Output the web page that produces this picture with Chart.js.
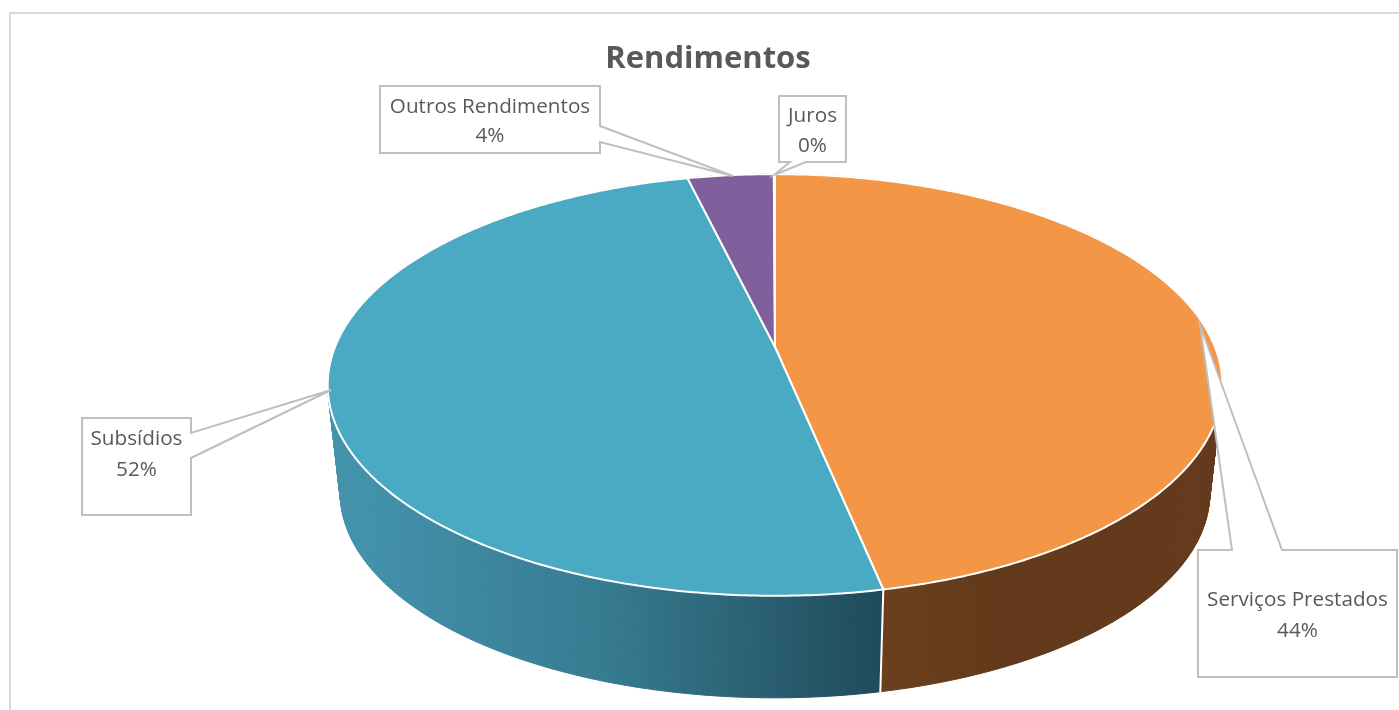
<!DOCTYPE html>
<html>
<head>
<meta charset="utf-8">
<title>Rendimentos</title>
<script src="https://cdn.jsdelivr.net/npm/chart.js@4"></script>
<style>
  html, body { margin: 0; padding: 0; background: #fff; overflow: hidden; }
  canvas { display: block; }
</style>
</head>
<body>
<canvas id="rendimentos" width="1399" height="710"></canvas>
<script>
const categories = ["Serviços Prestados", "Subsídios", "Outros Rendimentos", "Juros"];
// slice sizes as they are drawn in the picture (measured on the pie itself)
const sliceShares = [46.75, 49.5, 3.7, 0.05];
// percentages printed on the callouts
const labelPercents = [44, 52, 4, 0];

const topColors = ["#f39646", "#4aa9c3", "#7f609c", "#f2c94c"];
const sideColors = [
  ["#71451f", "#62391a", "#633a1b"],
  ["#4494ae", "#377b90", "#1f4a5a"],
  ["#5a446f", "#5a446f", "#5a446f"],
  ["#8a7030", "#8a7030", "#8a7030"]
];

// perspective of the disc: apex, radii and how much the near side grows
const pie = { cx: 775, cy: 347, rx: 440, ry: 204, k: 0.18, depth: 109, bottomScale: 0.972 };

function project(angle, isBottom) {
  let t = angle + Math.PI / 2;
  let u = Math.sin(t);
  let v = -Math.cos(t);
  let w = 1 - pie.k * v;
  let s = isBottom ? pie.bottomScale : 1;
  return {
    x: pie.cx + s * pie.rx * u / w,
    y: pie.cy + (isBottom ? pie.depth : 0) + s * pie.ry * v / w
  };
}

function rimPoints(start, end, isBottom) {
  let pts = [];
  let steps = Math.max(2, Math.ceil((end - start) / 0.01));
  for (let i = 0; i <= steps; i++) {
    pts.push(project(start + (end - start) * i / steps, isBottom));
  }
  return pts;
}

// box = [left, top, right, bottom], notch = two points on the box edge, tip = end of the leader
const callouts = [
  { box: [1198, 550, 1397, 677], side: "top", notch: [1232, 1282], tip: [1200, 325], textY: [600, 631] },
  { box: [82, 418, 191, 515], side: "right", notch: [433, 458], tip: [331, 390], textY: [439, 470] },
  { box: [380, 86, 600, 153], side: "right", notch: [126, 142], tip: [733, 176], textY: [107, 136] },
  { box: [779, 96, 846, 162], side: "bottom", notch: [790, 806], tip: [774, 175], textY: [116, 146] }
];

function drawCallout(ctx, c, i) {
  let [l, t, r, b] = c.box;
  ctx.beginPath();
  ctx.moveTo(l, t);
  if (c.side === "top") {
    ctx.lineTo(c.notch[0], t);
    ctx.lineTo(c.tip[0], c.tip[1]);
    ctx.lineTo(c.notch[1], t);
  }
  ctx.lineTo(r, t);
  if (c.side === "right") {
    ctx.lineTo(r, c.notch[0]);
    ctx.lineTo(c.tip[0], c.tip[1]);
    ctx.lineTo(r, c.notch[1]);
  }
  ctx.lineTo(r, b);
  if (c.side === "bottom") {
    ctx.lineTo(c.notch[1], b);
    ctx.lineTo(c.tip[0], c.tip[1]);
    ctx.lineTo(c.notch[0], b);
  }
  ctx.lineTo(l, b);
  ctx.closePath();
  ctx.fillStyle = "#ffffff";
  ctx.fill();
  ctx.strokeStyle = "#bfbfbf";
  ctx.lineWidth = 2;
  ctx.stroke();

  ctx.fillStyle = "#595959";
  ctx.font = "20.7px 'Open Sans'";
  ctx.textAlign = "center";
  ctx.textBaseline = "middle";
  ctx.fillText(categories[i], (l + r) / 2, c.textY[0]);
  ctx.fillText(labelPercents[i] + "%", (l + r) / 2, c.textY[1]);
}

const pie3d = {
  id: "pie3d",
  beforeDraw(chart) {
    let ctx = chart.ctx;
    ctx.save();
    ctx.fillStyle = "#ffffff";
    ctx.fillRect(0, 0, chart.width, chart.height);
    ctx.strokeStyle = "#d9d9d9";
    ctx.lineWidth = 2;
    ctx.beginPath();
    ctx.moveTo(10, 720);
    ctx.lineTo(10, 13);
    ctx.lineTo(1399, 13);
    ctx.stroke();
    ctx.restore();
  },
  // the library works out the angles, this only changes how the arcs are painted
  beforeDatasetsDraw(chart) {
    let ctx = chart.ctx;
    let arcs = chart.getDatasetMeta(0).data;
    ctx.save();

    // wall of the cylinder, one thin quad per step so the fold at the sides stays filled
    arcs.forEach((arc, i) => {
      let top = rimPoints(arc.startAngle, arc.endAngle, false);
      let bottom = rimPoints(arc.startAngle, arc.endAngle, true);
      let xs = top.concat(bottom).map(p => p.x);
      let x0 = Math.min(...xs);
      let x1 = Math.max(...xs);
      let grad = ctx.createLinearGradient(x0, 0, Math.max(x1, x0 + 1), 0);
      sideColors[i].forEach((col, n) => grad.addColorStop(n / (sideColors[i].length - 1), col));
      ctx.fillStyle = grad;
      ctx.strokeStyle = grad;
      ctx.lineWidth = 1;
      for (let n = 0; n < top.length - 1; n++) {
        ctx.beginPath();
        ctx.moveTo(top[n].x, top[n].y);
        ctx.lineTo(top[n + 1].x, top[n + 1].y);
        ctx.lineTo(bottom[n + 1].x, bottom[n + 1].y);
        ctx.lineTo(bottom[n].x, bottom[n].y);
        ctx.closePath();
        ctx.fill();
        ctx.stroke();
      }
    });

    // white edge where the slices meet on the wall
    ctx.strokeStyle = "#ffffff";
    ctx.lineWidth = 2;
    let a = project(arcs[0].endAngle, false);
    let b = project(arcs[0].endAngle, true);
    ctx.beginPath();
    ctx.moveTo(a.x, a.y);
    ctx.lineTo(b.x, b.y + 1);
    ctx.stroke();

    // top face
    arcs.forEach((arc, i) => {
      let rim = rimPoints(arc.startAngle, arc.endAngle, false);
      ctx.beginPath();
      ctx.moveTo(pie.cx, pie.cy);
      rim.forEach(p => ctx.lineTo(p.x, p.y));
      ctx.closePath();
      ctx.fillStyle = topColors[i];
      ctx.fill();
      ctx.strokeStyle = "#ffffff";
      ctx.lineWidth = 2;
      ctx.stroke();
    });

    ctx.restore();
    return false;
  },
  afterDraw(chart) {
    let ctx = chart.ctx;
    ctx.save();
    callouts.forEach((c, i) => drawCallout(ctx, c, i));
    ctx.restore();
  }
};

new Chart(document.getElementById("rendimentos").getContext("2d"), {
  type: "pie",
  data: {
    labels: categories,
    datasets: [{ data: sliceShares, backgroundColor: topColors }]
  },
  options: {
    responsive: false,
    animation: false,
    layout: { padding: { left: 17, top: 0 } },
    plugins: {
      legend: { display: false },
      tooltip: { enabled: false },
      title: {
        display: true,
        text: "Rendimentos",
        color: "#595959",
        font: { family: "'Open Sans'", size: 31, weight: "bold" },
        padding: { top: 41, bottom: 10 }
      }
    }
  },
  plugins: [pie3d]
});
</script>
</body>
</html>
